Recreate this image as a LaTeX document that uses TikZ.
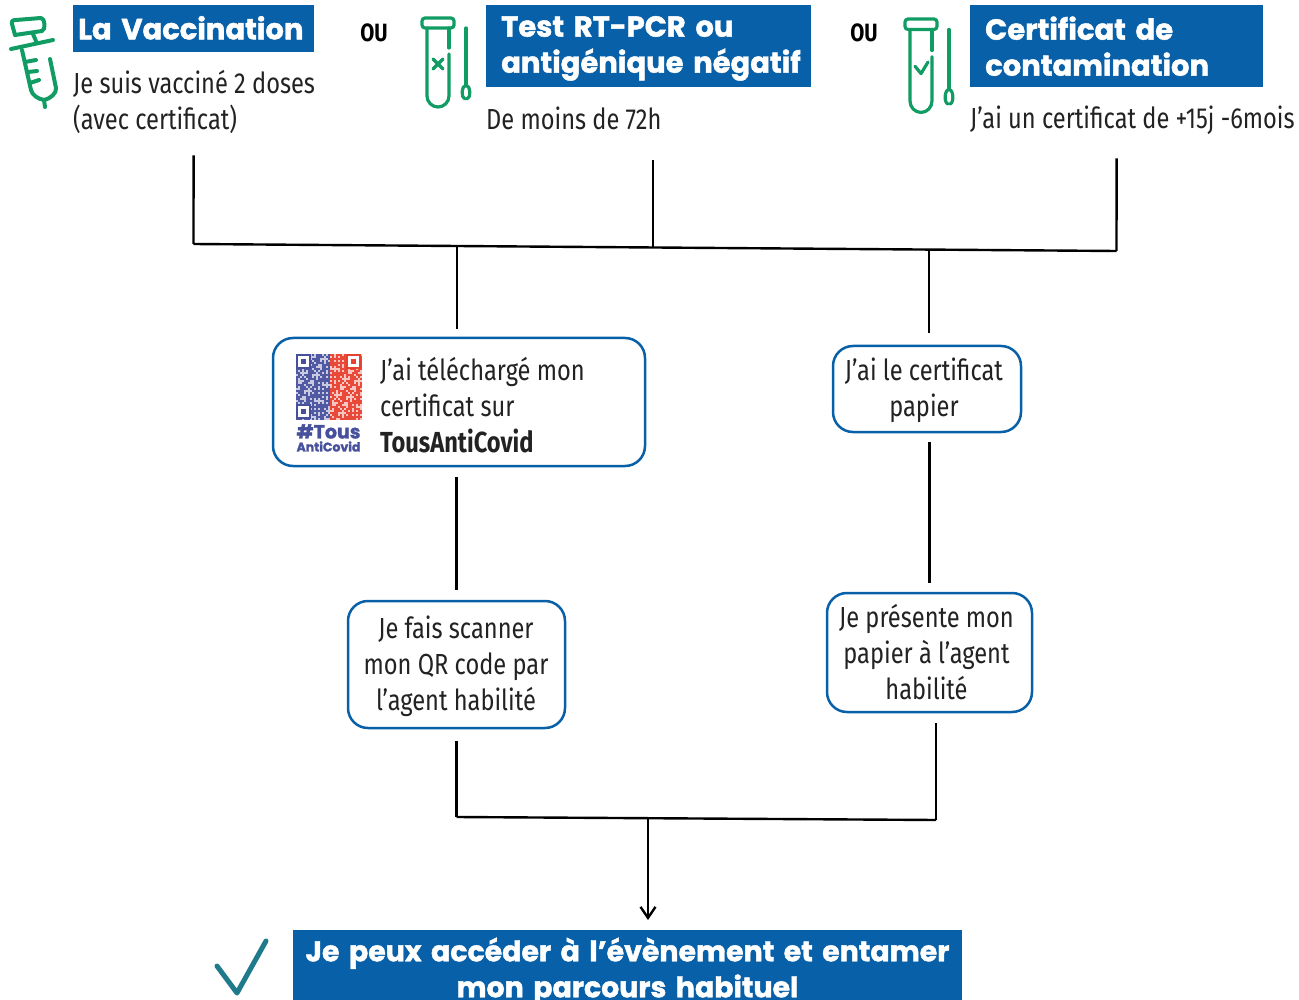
\documentclass[tikz,border=0pt]{standalone}
\usepackage{fontspec}
\usepackage{tikz}
\usetikzlibrary{arrows.meta,positioning}
\setmainfont[FakeStretch=0.815]{Fira Sans}
\newfontfamily\headfont[BoldFeatures={FakeBold=1.5}]{Poppins}
\definecolor{bluebox}{HTML}{0860A8}
\definecolor{greenicon}{HTML}{109C63}
\definecolor{tealcheck}{HTML}{1F7A8C}
\definecolor{qrblue}{HTML}{47509C}
\definecolor{qrred}{HTML}{E8402E}
\definecolor{inktext}{HTML}{222222}
% test tube with its swab, origin at top left of the cap
\def\Tube{
	\draw[icon,rounded corners=3pt] (0,0) rectangle (32,10);
	\draw[icon] (5,10) -- (5,78) arc (180:0:11) -- (27,36);
	\draw[icon] (27,30) -- (27,10);
	\draw[icon] (44,10) -- (44,67);
	\draw[icon] (44,67) .. controls (39,68) and (39,80) .. (43,81);
	\draw[icon] (44,67) .. controls (49,68) and (49,80) .. (45,81);
}
\begin{document}
\begin{tikzpicture}[x=1pt,y=-1pt,% everything is placed in reference pixels
		every node/.style={align=left,text=inktext,font=\fontsize{29}{36}\selectfont,inner sep=0pt},
		every edge/.style={draw,line width=2.4pt,black},
		head/.style={fill=bluebox,text=white,anchor=north west,font=\headfont\bfseries\fontsize{29}{36}\selectfont},
		step box/.style={draw=bluebox,line width=2.5pt,fill=white,rounded corners=20pt},
		icon/.style={draw=greenicon,line width=3.2pt,line cap=round,line join=round},
		>={Straight Barb[length=11pt,width=15pt]}
	]
	\useasboundingbox (0,0) rectangle (1299,1000);
	% the three cases
	\node[head,minimum width=241pt,minimum height=47pt,text width=231pt,inner xsep=5pt,text depth=2pt](VHead) at (73,5){La Vaccination};
	\node[head,minimum height=82pt,text width=325pt](THead) at (486,5){\rule{0pt}{25pt}\hspace*{15pt}Test RT-PCR ou\\\hspace*{15pt}antigénique négatif};
	\node[head,minimum width=293pt,minimum height=82pt,text width=263pt,inner xsep=15pt](CHead) at (970,5){Certificat de\\contamination};
	\node[anchor=west](VDesc) at (73,102){Je suis vacciné 2 doses\\(avec certificat)};
	\node[anchor=west](TDesc) at (486,118){De moins de 72h};
	\node[anchor=west](CDesc) at (970,120.5){J’ai un certificat de +15j -6mois};
	\node[font=\bfseries\fontsize{25}{25}\selectfont,text=black](Ou1) at (374,33){OU};
	\node[font=\bfseries\fontsize{25}{25}\selectfont,text=black](Ou2) at (864,33){OU};
	% syringe
	\draw[icon,line width=4pt] (15,35) -- (12,24) .. controls (11,21) and (13,20) .. (16,20) -- (41,18) .. controls (45,18) and (46,30) .. (42,31) -- (15,35);
	\draw[icon,line width=4pt] (33,34) -- (36,41);
	\draw[icon,line width=4pt] (11,49) -- (53,40);
	\draw[icon,line width=4pt] (22,50) -- (31,90) .. controls (32,95) and (38,99) .. (44,100);
	\draw[icon,line width=4pt] (50,59) -- (56,88) .. controls (57,93) and (50,99) .. (44,100) -- (45,107);
	\draw[icon,line width=4pt] (25,62) -- (36,60);
	\draw[icon,line width=4pt] (28,72) -- (37,71);
	\draw[icon,line width=4pt] (30,83) -- (39,80);
	% tubes
	\begin{scope}[shift={(422,18)}]
		\Tube
		\draw[icon] (11,41) -- (21,51);
		\draw[icon] (21,41) -- (11,51);
	\end{scope}
	\begin{scope}[shift={(905,19)},yscale=1.05]
		\Tube
		\draw[icon] (10,45) -- (16,52) -- (23,41);
	\end{scope}
	% the two ways to show it
	\node[step box,minimum width=372pt,minimum height=128pt](Qr) at (459,402){};
	\node[anchor=west](QrText) at (380,405){J’ai téléchargé mon\\certificat sur\\\textbf{TousAntiCovid}};
	\foreach \i in {0,...,32}{
		\foreach \j in {0,...,32}{
			\pgfmathtruncatemacro{\cell}{mod(int(abs(sin(\i*127+\j*311)*1000)),5)}
			\ifnum\i<17 \def\qrcol{qrblue}\else \def\qrcol{qrred}\fi
			\ifnum\cell<2 \def\qrshade{30}\else \def\qrshade{95}\fi
			\fill[\qrcol!\qrshade!white] ({296+2*\i},{354+2*\j}) rectangle ++(2,2);
		}
	}
	\foreach \px/\py/\col in {296/354/qrblue,346/354/qrred,296/404/qrblue}{
		\draw[\col,line width=2pt,fill=white] (\px+1,\py+1) rectangle ++(13,13);
		\fill[\col] (\px+5,\py+5) rectangle ++(5,5);
	}
	\node[font=\headfont\bfseries\fontsize{19}{19}\selectfont,text=qrblue](QrTag) at (328.5,431.5){\#Tous};
	\node[font=\headfont\bfseries\fontsize{12.5}{12.5}\selectfont,text=qrblue](QrApp) at (328.5,446.5){AntiCovid};
	\node[step box,minimum width=188pt,minimum height=86pt](Paper) at (927,389){};
	\node[align=center](PaperText) at (924,390){J’ai le certificat\\papier};
	\node[step box,minimum width=217pt,minimum height=127pt](Scan) at (456.5,664.5){};
	\node[align=center](ScanText) at (456,666){Je fais scanner\\mon QR code par\\l’agent habilité};
	\node[step box,minimum width=205pt,minimum height=119pt](Show) at (929.5,652.5){};
	\node[align=center](ShowText) at (926.5,652.5){Je présente mon\\papier à l’agent\\habilité};
	% final result
	\node[head,anchor=north,align=center,minimum width=669pt,minimum height=82pt,text width=669pt,font=\headfont\bfseries\fontsize{28.4}{36}\selectfont](Result) at (627.5,930){Je peux accéder à l’évènement et entamer\\mon parcours habituel};
	\draw[line width=5pt,tealcheck,line cap=round,line join=round] (217,966) -- (237,993) -- (266,941);
	% junctions on the two bars
	\coordinate (BarA) at (193.5,244);
	\coordinate (BarB) at (457,246.5);
	\coordinate (BarC) at (653,248.5);
	\coordinate (BarD) at (929,250);
	\coordinate (BarE) at (1116.5,251);
	\coordinate (LowA) at (456.5,817);
	\coordinate (LowB) at (648,818.5);
	\coordinate (LowC) at (936,820);
	\path
	(VHead.south)edge [shorten <=103pt] (BarA)
	(THead.south -| BarC)edge [shorten <=73pt] (BarC)
	(CHead.south)edge [shorten <=71pt] (BarE)
	(BarA)edge [] (BarE)
	(BarB)edge [shorten >=8pt] (Qr.north -| BarB)
	(BarD)edge [shorten >=12pt] (Paper.north -| BarD)
	(Qr.south -| Scan.north)edge [shorten <=10pt,shorten >=10pt] (Scan.north)
	(Paper.south -| Show.north)edge [shorten <=9pt,shorten >=9pt] (Show.north)
	(Scan.south)edge [shorten <=12pt] (LowA)
	(Show.south -| LowC)edge [shorten <=10pt] (LowC)
	(LowA)edge [] (LowC)
	(LowB)edge [->,shorten >=10pt] (LowB |- Result.north)
	;
\end{tikzpicture}
\end{document}
